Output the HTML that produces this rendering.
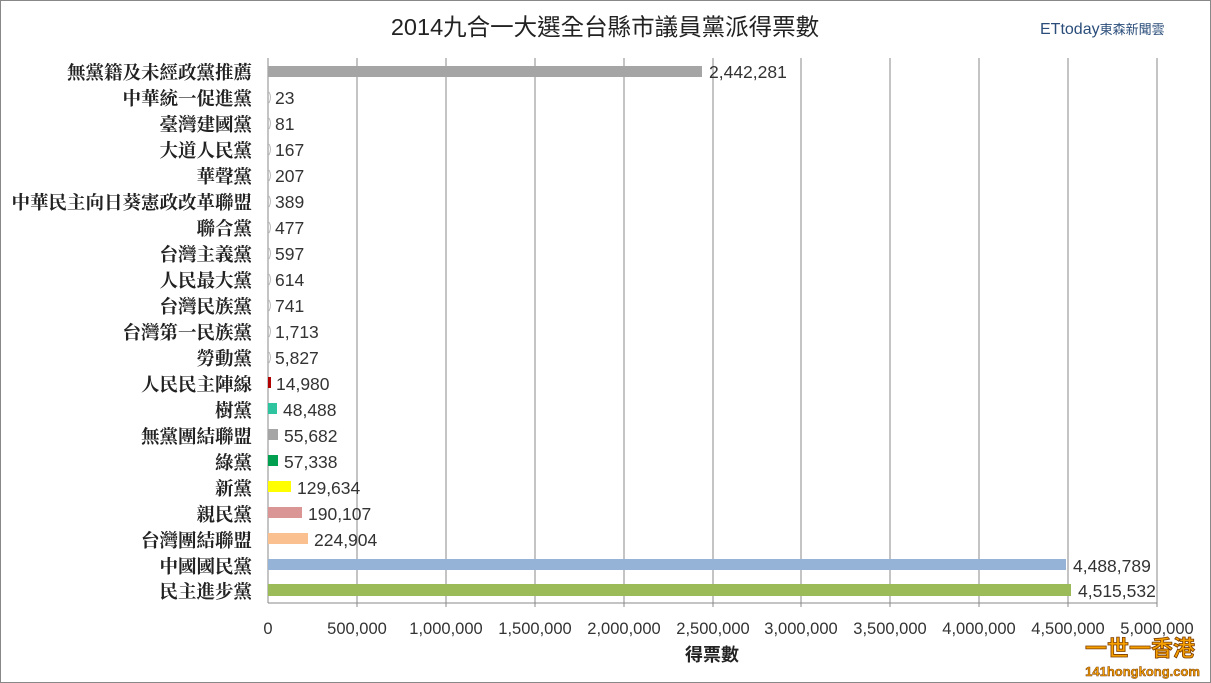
<!DOCTYPE html><html><head><meta charset="utf-8"><style>body{margin:0;background:#fff}svg{display:block}</style></head><body>
<svg width="1211" height="683" xmlns="http://www.w3.org/2000/svg" font-family="Liberation Sans, Noto Sans CJK TC, sans-serif">
<rect x="0.5" y="0.5" width="1210" height="682" fill="#fff" stroke="#888"/>
<text x="605" y="35" font-size="23.5" text-anchor="middle" fill="#222">2014九合一大選全台縣市議員黨派得票數</text>
<text x="1040" y="34" font-size="16" fill="#2a4d7a">ETtoday<tspan font-size="13">東森新聞雲</tspan></text>
<g stroke="#888" stroke-width="1">
<line x1="357" y1="58" x2="357" y2="607"/><line x1="446" y1="58" x2="446" y2="607"/><line x1="535" y1="58" x2="535" y2="607"/><line x1="624" y1="58" x2="624" y2="607"/><line x1="713" y1="58" x2="713" y2="607"/><line x1="801" y1="58" x2="801" y2="607"/><line x1="890" y1="58" x2="890" y2="607"/><line x1="979" y1="58" x2="979" y2="607"/><line x1="1068" y1="58" x2="1068" y2="607"/><line x1="1157" y1="58" x2="1157" y2="607"/>
<line x1="268" y1="58" x2="268" y2="603"/><line x1="268" y1="603" x2="1157" y2="603"/>
</g>
<g font-size="16.5" fill="#333" font-family="Liberation Sans, DejaVu Sans, sans-serif" text-anchor="middle">
<text x="268" y="634">0</text><text x="357" y="634">500,000</text><text x="446" y="634">1,000,000</text><text x="535" y="634">1,500,000</text><text x="624" y="634">2,000,000</text><text x="713" y="634">2,500,000</text><text x="801" y="634">3,000,000</text><text x="890" y="634">3,500,000</text><text x="979" y="634">4,000,000</text><text x="1068" y="634">4,500,000</text><text x="1157" y="634">5,000,000</text>
</g>
<text x="712" y="661" font-size="18" font-weight="bold" text-anchor="middle" fill="#222">得票數</text>
<g font-size="18.5" font-weight="bold" text-anchor="end" fill="#222" font-family="Liberation Serif, Noto Serif CJK SC, serif">
<text x="252" y="79">無黨籍及未經政黨推薦</text><text x="252" y="105">中華統一促進黨</text><text x="252" y="131">臺灣建國黨</text><text x="252" y="157">大道人民黨</text><text x="252" y="183">華聲黨</text><text x="252" y="209">中華民主向日葵憲政改革聯盟</text><text x="252" y="235">聯合黨</text><text x="252" y="261">台灣主義黨</text><text x="252" y="287">人民最大黨</text><text x="252" y="313">台灣民族黨</text><text x="252" y="339">台灣第一民族黨</text><text x="252" y="365">勞動黨</text><text x="252" y="391">人民民主陣線</text><text x="252" y="417">樹黨</text><text x="252" y="443">無黨團結聯盟</text><text x="252" y="469">綠黨</text><text x="252" y="495">新黨</text><text x="252" y="521">親民黨</text><text x="252" y="547">台灣團結聯盟</text><text x="252" y="573">中國國民黨</text><text x="252" y="598">民主進步黨</text>
</g>
<g>
<rect x="268" y="66" width="434" height="11" fill="#a5a5a5"/>
<g fill="none" stroke="#bbb" stroke-width="1"><path d="M269 92 q3 5 0 11 M269 118 q3 5 0 11 M269 144 q3 5 0 11 M269 170 q3 5 0 11 M269 196 q3 5 0 11 M269 222 q3 5 0 11 M269 248 q3 5 0 11 M269 274 q3 5 0 11 M269 300 q3 5 0 11 M269 326 q3 5 0 11 M269 352 q3 5 0 11"/></g>
<rect x="268" y="377" width="3" height="11" fill="#b00000"/>
<rect x="268" y="403" width="9" height="11" fill="#2ec4a0"/>
<rect x="268" y="429" width="10" height="11" fill="#a5a5a5"/>
<rect x="268" y="455" width="10" height="11" fill="#00a050"/>
<rect x="268" y="481" width="23" height="11" fill="#ffff00"/>
<rect x="268" y="507" width="34" height="11" fill="#d99694"/>
<rect x="268" y="533" width="40" height="11" fill="#fac090"/>
<rect x="268" y="559" width="798" height="11" fill="#95b3d7"/>
<rect x="268" y="584" width="803" height="12" fill="#9bbb59"/>
</g>
<g font-size="17.5" fill="#333" font-family="Liberation Sans, DejaVu Sans, sans-serif">
<text x="709" y="78">2,442,281</text><text x="275" y="104">23</text><text x="275" y="130">81</text><text x="275" y="156">167</text><text x="275" y="182">207</text><text x="275" y="208">389</text><text x="275" y="234">477</text><text x="275" y="260">597</text><text x="275" y="286">614</text><text x="275" y="312">741</text><text x="275" y="338">1,713</text><text x="275" y="364">5,827</text><text x="276" y="390">14,980</text><text x="283" y="416">48,488</text><text x="284" y="442">55,682</text><text x="284" y="468">57,338</text><text x="297" y="494">129,634</text><text x="308" y="520">190,107</text><text x="314" y="546">224,904</text><text x="1073" y="572">4,488,789</text><text x="1078" y="597">4,515,532</text>
</g>
<text x="1195" y="656" font-size="22" font-weight="bold" text-anchor="end" fill="#f5a000" stroke="#7a3a00" stroke-width="0.8">一世一香港</text>
<text x="1200" y="676" font-size="13" font-weight="bold" text-anchor="end" fill="#f5a000" stroke="#7a3a00" stroke-width="0.5">141hongkong.com</text>
</svg></body></html>
